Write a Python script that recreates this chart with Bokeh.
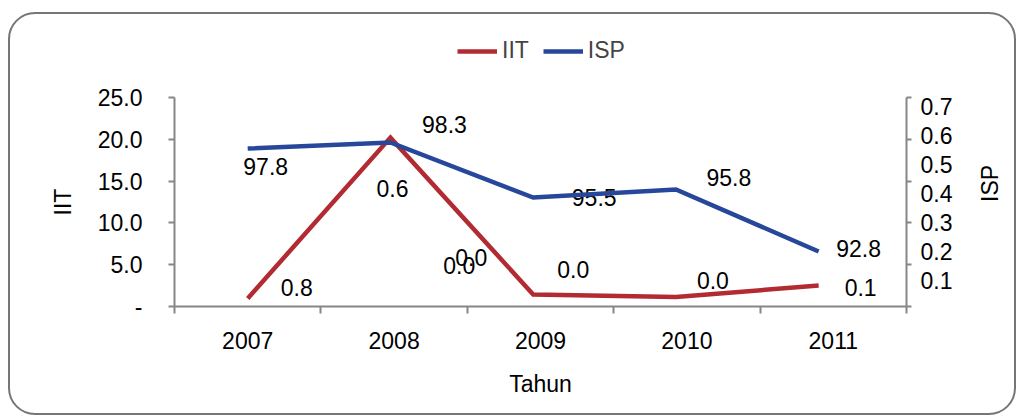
import math
from urllib.parse import quote
from bokeh.plotting import figure
from bokeh.layouts import column
from bokeh.models import (Range1d, LinearAxis, FixedTicker, CustomJSTickFormatter,
                          Legend, LegendItem)
from bokeh.core.properties import value
from bokeh.embed import file_html
from bokeh.resources import INLINE

# ---------------- data ----------------
years = ["2007", "2008", "2009", "2010", "2011"]
iit = [0.96, 20.2, 1.44, 1.14, 2.51]
isp = [0.555, 0.576, 0.386, 0.414, 0.200]
iit_ticks = [0, 5, 10, 15, 20, 25]
isp_ticks = [0.1, 0.2, 0.3, 0.4, 0.5, 0.6, 0.7]
isp_point_labels = ["97.8", "98.3", "95.5", "95.8", "92.8"]
iit_point_labels = ["0.8", "0.6", "0.0", "0.0", "0.0", "0.0", "0.1"]
iit_label_anchor = [0, 1, 2, 2, 2, 3, 4]

# ---------------- styles / layout ----------------
FONT = "Liberation Sans"
FS = "23px"
RED = "#B22A32"
BLUE = "#27479A"
AXIS_GRAY = "#868686"
BORDER_GRAY = "#767676"
LINE_SPREAD = 0.975          # Excel draws the series slightly compressed
ISP_LABEL_OFFSETS = [(18, 18), (54, -18), (61, 0), (53, -12), (40, -3)]
IIT_LABEL_OFFSETS = [(49, -11), (2, 51), (-74, -29), (-62, -37), (40, -25), (37, -16), (42, 2)]

W, H = 1019, 416
TOP_H = 77                       # strip holding the legend
MAIN_H = H - TOP_H
FRAME_L, FRAME_R, FRAME_T, FRAME_B = 174, 908, 20, MAIN_H - 110   # main canvas px
ISP_START = 0.1 - 26 / 290.0
ISP_END = 0.1 + 183 / 290.0

# ---------------- main chart ----------------
p = figure(width=W, height=MAIN_H, output_backend="svg", toolbar_location=None,
           x_axis_location=None, y_axis_location=None, title=None,
           x_range=Range1d(-0.5, len(years) - 0.5),
           y_range=Range1d(iit_ticks[0], iit_ticks[-1]),
           min_border_left=FRAME_L, min_border_right=W - FRAME_R,
           min_border_top=FRAME_T, min_border_bottom=MAIN_H - FRAME_B)
p.extra_y_ranges = {"isp": Range1d(ISP_START, ISP_END)}
p.xgrid.visible = False
p.ygrid.visible = False
p.outline_line_color = None
p.background_fill_color = "white"
p.border_fill_color = None


def style_axis(ax):
    ax.axis_line_color = AXIS_GRAY
    ax.axis_line_width = 2
    ax.major_tick_line_color = AXIS_GRAY
    ax.major_tick_line_width = 2
    ax.minor_tick_line_color = AXIS_GRAY
    ax.minor_tick_line_width = 2
    ax.major_label_text_font = FONT
    ax.major_label_text_font_size = FS
    ax.major_label_text_color = "black"
    ax.axis_label_text_font = FONT
    ax.axis_label_text_font_size = FS
    ax.axis_label_text_font_style = "normal"
    ax.axis_label_text_color = "black"


# x axis (category labels at centres, ticks at boundaries)
xax = LinearAxis(
    ticker=FixedTicker(ticks=list(range(len(years))),
                       minor_ticks=[i - 0.5 for i in range(len(years) + 1)]),
    formatter=CustomJSTickFormatter(args=dict(labels=years),
                                    code="const i = Math.round(tick); return labels[i] ?? '';"),
    axis_label="Tahun")
style_axis(xax)
xax.major_tick_out = 0
xax.major_tick_in = 0
xax.minor_tick_out = 7
xax.minor_tick_in = 0
xax.major_label_standoff = 18
xax.axis_label_standoff = 19
p.add_layout(xax, "below")

# left axis
lax = LinearAxis(ticker=FixedTicker(ticks=iit_ticks, minor_ticks=[]),
                 formatter=CustomJSTickFormatter(code="return tick == 0 ? '-' : tick.toFixed(1);"),
                 axis_label="IIT")
style_axis(lax)
lax.major_tick_out = 6
lax.major_tick_in = 0
lax.minor_tick_out = 0
lax.minor_tick_in = 0
lax.major_label_standoff = 26
lax.axis_label_standoff = 19
p.add_layout(lax, "left")


def iit_to_isp(t):
    return ISP_START + (t - iit_ticks[0]) / (iit_ticks[-1] - iit_ticks[0]) * (ISP_END - ISP_START)


# right axis
rax = LinearAxis(y_range_name="isp",
                 ticker=FixedTicker(ticks=isp_ticks,
                                    minor_ticks=[iit_to_isp(t) for t in iit_ticks]),
                 formatter=CustomJSTickFormatter(code="return tick.toFixed(1);"),
                 axis_label="ISP")
style_axis(rax)
rax.major_tick_out = 0
rax.major_tick_in = 0
rax.minor_tick_out = 5
rax.minor_tick_in = 0
rax.major_label_standoff = 9
rax.axis_label_standoff = 35
if "axis_label_orientation" in LinearAxis.properties():
    rax.axis_label_orientation = math.pi / 2
    rax.axis_label_text_align = "center"
p.add_layout(rax, "right")

line_x = [i * LINE_SPREAD for i in range(len(years))]

# data labels (drawn first so the lines sit above them)
p.text(x=line_x, y=isp, text=isp_point_labels,
       x_offset=[o[0] for o in ISP_LABEL_OFFSETS], y_offset=[o[1] for o in ISP_LABEL_OFFSETS],
       y_range_name="isp", text_align="center", text_baseline="middle",
       text_font=value(FONT), text_font_size=FS, text_color="black")
p.text(x=[line_x[a] for a in iit_label_anchor], y=[iit[a] for a in iit_label_anchor],
       text=iit_point_labels,
       x_offset=[o[0] for o in IIT_LABEL_OFFSETS], y_offset=[o[1] for o in IIT_LABEL_OFFSETS],
       text_align="center", text_baseline="middle",
       text_font=value(FONT), text_font_size=FS, text_color="black")

r_iit = p.line(line_x, iit, line_color=RED, line_width=4.5, line_join="miter")
r_isp = p.line(line_x, isp, line_color=BLUE, line_width=4.5, line_join="miter",
               y_range_name="isp")

# ---------------- legend strip above the chart ----------------
# (the strip's frame is aligned with the chart's frame by the column layout;
#  its series renderers lie outside its view and only feed the legend glyphs)
top = figure(width=W, height=TOP_H, output_backend="svg", toolbar_location=None,
             x_axis_location=None, y_axis_location=None, title=None,
             x_range=Range1d(-3, -2), y_range=Range1d(0, 1),
             min_border_left=0, min_border_right=0, min_border_top=0, min_border_bottom=0)
top.xgrid.visible = False
top.ygrid.visible = False
top.outline_line_color = None
top.background_fill_color = None
top.border_fill_color = None
k_iit = top.line(line_x, iit, line_color=RED, line_width=4.5)
k_isp = top.line(line_x, isp, line_color=BLUE, line_width=4.5)
legend = Legend(items=[LegendItem(label="IIT", renderers=[k_iit]),
                       LegendItem(label="ISP", renderers=[k_isp])],
                orientation="horizontal", location=(283, 13),
                glyph_width=40, glyph_height=20, label_standoff=5, spacing=14,
                padding=0, margin=0, border_line_alpha=0, background_fill_alpha=0,
                label_text_font=FONT, label_text_font_size=FS, label_height=20)
top.add_layout(legend)

# rounded chart-area border, painted behind the (transparent) canvases
border_svg = (f"<svg xmlns='http://www.w3.org/2000/svg' width='{W}' height='{H}'>"
              f"<rect x='9' y='13' width='1006' height='401' rx='26' ry='26' fill='none' "
              f"stroke='{BORDER_GRAY}' stroke-width='2'/></svg>")
layout = column(top, p, spacing=0,
                styles={"background-image": f"url(\"data:image/svg+xml,{quote(border_svg)}\")",
                        "background-repeat": "no-repeat", "background-color": "white"})

open("out.html", "w").write(file_html(layout, INLINE))
